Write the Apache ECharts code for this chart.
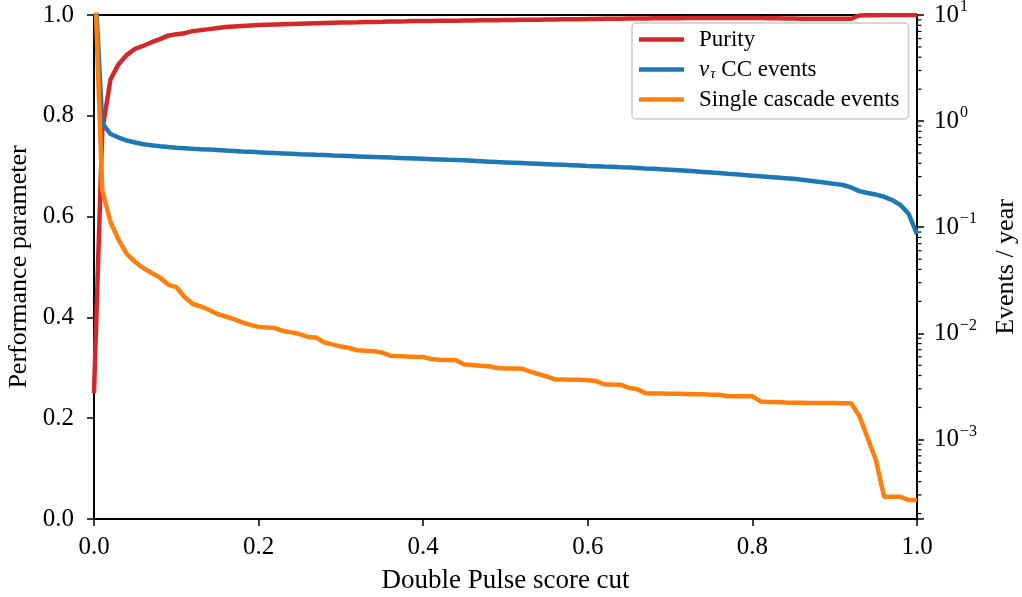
<!DOCTYPE html>
<html>
<head>
<meta charset="utf-8">
<script src="https://cdn.jsdelivr.net/npm/echarts@6/dist/echarts.min.js"></script>
<style>html,body{margin:0;padding:0;background:#fff}#c{width:1022px;height:597px}</style>
</head>
<body>
<div id="c"></div>
<script>
// Double Pulse score cut (x), steps of 0.01
const scoreCut = [0.00,0.01,0.02,0.03,0.04,0.05,0.06,0.07,0.08,0.09,0.10,0.11,0.12,0.13,0.14,0.15,0.16,0.17,0.18,0.19,0.20,0.21,0.22,0.23,0.24,0.25,0.26,0.27,0.28,0.29,0.30,0.31,0.32,0.33,0.34,0.35,0.36,0.37,0.38,0.39,0.40,0.41,0.42,0.43,0.44,0.45,0.46,0.47,0.48,0.49,0.50,0.51,0.52,0.53,0.54,0.55,0.56,0.57,0.58,0.59,0.60,0.61,0.62,0.63,0.64,0.65,0.66,0.67,0.68,0.69,0.70,0.71,0.72,0.73,0.74,0.75,0.76,0.77,0.78,0.79,0.80,0.81,0.82,0.83,0.84,0.85,0.86,0.87,0.88,0.89,0.90,0.91,0.92,0.93,0.94,0.95,0.96,0.97,0.98,0.99,1.00];

// Purity (left axis)
const purity = [0.25,0.77,0.872,0.903,0.921,0.933,0.939,0.946,0.952,0.959,0.962,0.964,0.968,0.970,0.972,0.974,0.976,0.977,0.978,0.979,0.980,0.9805,0.981,0.9815,0.982,0.9825,0.983,0.9835,0.984,0.9845,0.985,0.9853,0.9856,0.986,0.9863,0.9866,0.987,0.9873,0.9876,0.988,0.988,0.9882,0.9884,0.9886,0.9888,0.989,0.9892,0.9894,0.9896,0.9898,0.990,0.9902,0.9904,0.9906,0.9908,0.991,0.9912,0.9914,0.9916,0.9918,0.992,0.9922,0.9924,0.9926,0.9928,0.993,0.993,0.9932,0.9934,0.9935,0.9936,0.9937,0.9938,0.9939,0.994,0.994,0.994,0.994,0.994,0.994,0.994,0.9938,0.9936,0.9934,0.9932,0.993,0.9928,0.9926,0.9925,0.9924,0.9924,0.9925,0.9926,0.999,0.9995,0.9997,0.9998,0.9999,1.0,1.0,1.0];

// nu_tau CC events per year (right axis)
const nuTauCC = [30,0.96,0.756,0.70,0.656,0.628,0.606,0.591,0.579,0.569,0.560,0.554,0.548,0.543,0.539,0.535,0.529,0.524,0.518,0.513,0.508,0.504,0.500,0.496,0.492,0.488,0.485,0.481,0.478,0.474,0.471,0.468,0.465,0.462,0.459,0.456,0.453,0.450,0.447,0.444,0.441,0.438,0.435,0.432,0.430,0.427,0.423,0.419,0.415,0.411,0.408,0.405,0.402,0.399,0.396,0.393,0.390,0.387,0.384,0.381,0.378,0.376,0.373,0.371,0.368,0.366,0.362,0.358,0.355,0.351,0.348,0.344,0.340,0.336,0.332,0.328,0.324,0.319,0.315,0.310,0.306,0.302,0.298,0.294,0.290,0.286,0.280,0.274,0.268,0.262,0.256,0.250,0.237,0.219,0.210,0.203,0.1935,0.180,0.162,0.133,0.086];

// Single cascade events per year (right axis)
const singleCascade = [35,0.224,0.112,0.0757,0.0558,0.047,0.0412,0.037,0.0336,0.0288,0.0273,0.022,0.0189,0.0179,0.0166,0.0152,0.0144,0.0136,0.0127,0.012,0.0115,0.01135,0.0112,0.0105,0.0102,0.00985,0.00923,0.00913,0.00818,0.00787,0.0075,0.00727,0.00693,0.00684,0.00677,0.00659,0.00615,0.00611,0.00604,0.0060,0.00598,0.00573,0.00563,0.0056,0.00556,0.00508,0.00502,0.00495,0.0049,0.00471,0.00467,0.00466,0.00464,0.00436,0.00413,0.00392,0.00368,0.00367,0.00366,0.00365,0.00361,0.00355,0.00331,0.00329,0.00328,0.00305,0.00299,0.00272,0.00271,0.00271,0.0027,0.00269,0.00268,0.00267,0.00266,0.00264,0.00264,0.00255,0.00255,0.00255,0.00255,0.00228,0.00225,0.00225,0.00223,0.00222,0.00222,0.0022,0.0022,0.0022,0.0022,0.00219,0.00219,0.00166,0.00103,0.00064,0.000288,0.000288,0.000288,0.000268,0.000268];

// Tick labels
const xTicks = [0.0,0.2,0.4,0.6,0.8,1.0];
const leftTicks = [0.0,0.2,0.4,0.6,0.8,1.0];
const rightDecades = [-4,-3,-2,-1,0,1];

const FONT = 'Liberation Serif';
const C_RED = '#d62728', C_BLUE = '#1f77b4', C_ORANGE = '#ff7f0e';

const pair = (ys) => scoreCut.map((x, i) => [x, ys[i]]);

// minor tick positions of the log axis (2..9 x 10^k)
const minorTickVals = [];
rightDecades.slice(0, -1).forEach(e => { for (let m = 2; m <= 9; m++) minorTickVals.push([1, m * Math.pow(10, e)]); });

function logLabel(v) {
  const l = Math.log10(v);
  const e = Math.round(l);
  if (Math.abs(l - e) > 1e-6) return '';
  const s = (e < 0 ? '−' + (-e) : '' + e);
  return '{b|10}{s|' + s + '}';
}

const chart = echarts.init(document.getElementById('c'), null, {renderer: 'canvas'});
chart.setOption({
  animation: false,
  backgroundColor: '#fff',
  textStyle: {fontFamily: FONT, color: '#000'},
  grid: {left: 94, right: 105, top: 15, bottom: 78, outerBoundsMode: 'none', containLabel: false,
    show: true, borderColor: '#000', borderWidth: 2, backgroundColor: 'transparent'},
  legend: {
    orient: 'vertical',
    left: 632, top: 23,
    data: ['Purity', 'nu', 'Single cascade events'],
    icon: 'rect',
    itemWidth: 45, itemHeight: 4.5,
    itemGap: 6,
    padding: [5, 9, 8, 7],
    backgroundColor: 'rgba(255,255,255,0.8)',
    borderColor: '#cccccc', borderWidth: 1.5, borderRadius: 4,
    formatter: function (n) {
      if (n === 'nu') return '{it|ν}{sub|τ}{r| CC events}';
      return '{r|' + n + '}';
    },
    textStyle: {
      fontFamily: FONT, fontSize: 23, color: '#000', padding: [0, 0, 0, 10],
      rich: {
        r: {fontFamily: FONT, fontSize: 23, lineHeight: 22},
        it: {fontFamily: FONT, fontSize: 23, fontStyle: 'italic', lineHeight: 22},
        sub: {fontFamily: FONT, fontSize: 15, fontStyle: 'italic', padding: [10, 0, 0, 1], lineHeight: 22}
      }
    }
  },
  xAxis: {
    type: 'value', min: 0, max: 1, interval: 0.2,
    name: 'Double Pulse score cut', nameLocation: 'middle', nameGap: 48,
    nameTextStyle: {fontFamily: FONT, fontSize: 27, color: '#000'},
    axisLine: {show: true, onZero: false, lineStyle: {color: '#000', width: 2}},
    axisTick: {show: true, length: 7, lineStyle: {color: '#000', width: 1.5}},
    axisLabel: {fontFamily: FONT, fontSize: 25, color: '#000', margin: 16,
      formatter: v => xTicks.some(t => Math.abs(t - v) < 1e-9) ? v.toFixed(1) : ''},
    splitLine: {show: false}
  },
  yAxis: [{
    type: 'value', min: 0, max: 1, interval: 0.2, position: 'left',
    name: 'Performance parameter', nameLocation: 'middle', nameGap: 58,
    nameTextStyle: {fontFamily: FONT, fontSize: 26, color: '#000'},
    axisLine: {show: true, onZero: false, lineStyle: {color: '#000', width: 2}},
    axisTick: {show: true, length: 7, lineStyle: {color: '#000', width: 1.5}},
    axisLabel: {fontFamily: FONT, fontSize: 25, color: '#000', margin: 20,
      formatter: v => leftTicks.some(t => Math.abs(t - v) < 1e-9) ? v.toFixed(1) : ''},
    splitLine: {show: false}
  }, {
    type: 'log', logBase: 10, min: Math.pow(10, -3.75), max: 10, position: 'right',
    name: 'Events / year', nameLocation: 'middle', nameGap: 76, nameRotate: 90,
    nameTextStyle: {fontFamily: FONT, fontSize: 26, color: '#000'},
    axisLine: {show: true, onZero: false, lineStyle: {color: '#000', width: 2}},
    axisTick: {show: true, length: 7, lineStyle: {color: '#000', width: 1.5}},
    axisLabel: {fontFamily: FONT, color: '#000', margin: 17, formatter: logLabel,
      rich: {
        b: {fontFamily: FONT, fontSize: 25},
        s: {fontFamily: FONT, fontSize: 16, padding: [0, 0, 16, 1]}
      }},
    splitLine: {show: false}
  }],
  series: [{
    name: 'Purity', type: 'line', yAxisIndex: 0, data: pair(purity),
    showSymbol: false, symbol: 'none', clip: true,
    lineStyle: {color: C_RED, width: 4.5}, itemStyle: {color: C_RED}, z: 3
  }, {
    name: 'nu', type: 'line', yAxisIndex: 1, data: pair(nuTauCC),
    showSymbol: false, symbol: 'none', clip: true,
    lineStyle: {color: C_BLUE, width: 4.5}, itemStyle: {color: C_BLUE}, z: 4
  }, {
    name: 'Single cascade events', type: 'line', yAxisIndex: 1, data: pair(singleCascade),
    showSymbol: false, symbol: 'none', clip: true,
    lineStyle: {color: C_ORANGE, width: 4.5}, itemStyle: {color: C_ORANGE}, z: 5
  }, {
    name: 'minorTicks', type: 'custom', yAxisIndex: 1, data: minorTickVals, silent: true, clip: false,
    renderItem: function (params, api) {
      const p = api.coord([api.value(0), api.value(1)]);
      return {type: 'line', shape: {x1: p[0], y1: p[1], x2: p[0] + 4.5, y2: p[1]},
        style: {stroke: '#000', lineWidth: 1.2}};
    }
  }]
});
</script>
</body>
</html>
